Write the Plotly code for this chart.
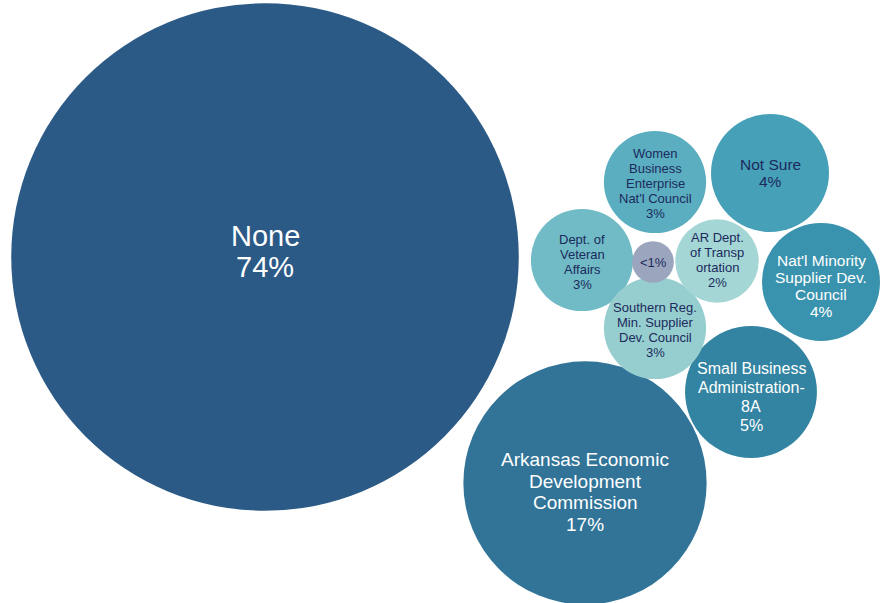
import math
import plotly.graph_objects as go

# ---- data ----
categories = [
    "None",
    "Arkansas Economic<br>Development<br>Commission",
    "Small Business<br>Administration-<br>8A",
    "Nat'l Minority<br>Supplier Dev.<br>Council",
    "Not Sure",
    "Women<br>Business<br>Enterprise<br>Nat'l Council",
    "Dept. of<br>Veteran<br>Affairs",
    "Southern Reg.<br>Min. Supplier<br>Dev. Council",
    "AR Dept.<br>of Transp<br>ortation",
    "",
]
values = [74, 17, 5, 4, 4, 3, 3, 3, 2, 0.5]
value_labels = ["74%", "17%", "5%", "4%", "4%", "3%", "3%", "3%", "2%", "<1%"]

# ---- layout (bubble packing positions, pixel space) ----
pos_x = [265, 585, 751, 821, 770, 655, 582, 655, 717, 653]
pos_y = [257, 483, 392, 282, 173, 182, 260, 328, 261, 262]
text_dy = [-6, 9, 5, 4, 0, 1, 2, 2, -1, 0]

# ---- styles ----
colors = ["#2c5a86", "#317498", "#3384a2", "#3a93ae", "#46a0b8",
          "#5aaec0", "#70bbc6", "#96cecf", "#a3d6d4", "#9ba6be"]
text_colors = ["#ffffff", "#ffffff", "#ffffff", "#ffffff", "#1c2a5c",
               "#1c2a5c", "#1c2a5c", "#1c2a5c", "#1c2a5c", "#1c2a5c"]
font_sizes = [29, 19, 16, 15.5, 15.5, 13, 13, 13, 13, 13]
line_gap = [31, 21.5, 18.7, 17, 17, 15, 15, 15, 15, 15]

K = 29.5  # radius (px) per sqrt(percent)
# plotly area mode: diameter = sqrt(v / (2*sizeref))
sizeref = 2.0 / (2 * K) ** 2

W, H = 890, 603
fig = go.Figure()
fig.add_trace(go.Scatter(
    x=pos_x, y=pos_y, mode="markers",
    marker=dict(size=values, sizemode="area", sizeref=sizeref, sizemin=1,
                color=colors, opacity=1, line=dict(width=0)),
    hoverinfo="skip", showlegend=False,
))

annotations = []
for i, (cat, vl) in enumerate(zip(categories, value_labels)):
    lines = (cat.split("<br>") if cat else []) + [vl]
    n = len(lines)
    for j, ln in enumerate(lines):
        off = (j - (n - 1) / 2) * line_gap[i]
        annotations.append(dict(
            x=pos_x[i], y=pos_y[i], xref="x", yref="y", text=ln,
            showarrow=False, xanchor="center", yanchor="middle",
            yshift=-(off + text_dy[i]),
            font=dict(family="Liberation Sans, Arial, sans-serif",
                      size=font_sizes[i], color=text_colors[i]),
        ))

fig.update_layout(
    width=W, height=H,
    margin=dict(l=0, r=0, t=0, b=0),
    paper_bgcolor="white", plot_bgcolor="white",
    xaxis=dict(range=[0, W], visible=False, fixedrange=True),
    yaxis=dict(range=[H, 0], visible=False, fixedrange=True),
    annotations=annotations,
)
fig.write_html("out.html")
